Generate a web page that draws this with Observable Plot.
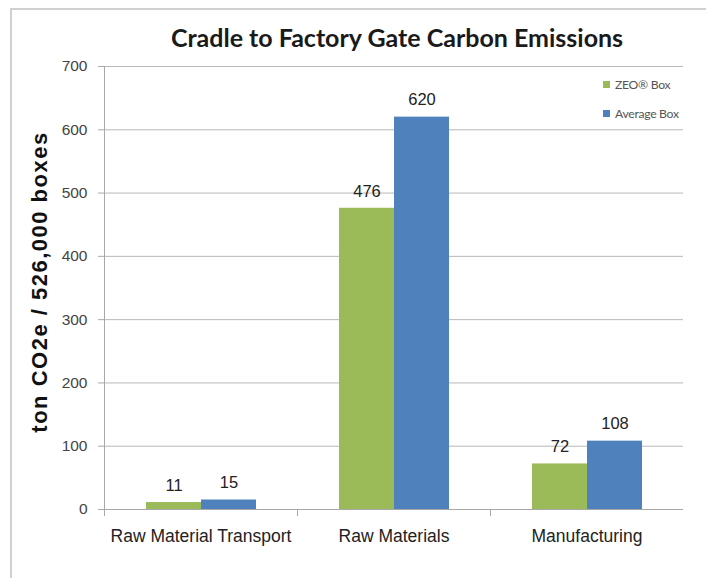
<!DOCTYPE html>
<html>
<head>
<meta charset="utf-8">
<script src="https://cdn.jsdelivr.net/npm/d3@7"></script>
<script src="https://cdn.jsdelivr.net/npm/@observablehq/plot@0.6"></script>
<style>
  html, body { margin: 0; padding: 0; background: #fff; }
  #wrap { position: relative; width: 706px; height: 578px; overflow: hidden; font-family: "Liberation Sans", Arial, sans-serif; }
  #border { position: absolute; left: 10px; top: 8px; width: 720px; height: 600px; border-left: 2px solid #d0d0d0; border-top: 2px solid #d0d0d0; }
  #chart { position: absolute; left: 0; top: 0; }
  #title { position: absolute; left: 97px; width: 600px; top: 22px; text-align: center; font-family: Lato, sans-serif; font-weight: bold; font-size: 25px; line-height: 30px; color: #1a1a1a; white-space: nowrap; }
  #ylabel { position: absolute; left: 40px; top: 282px; transform: translate(-50%, -50%) rotate(-90deg); font-weight: bold; font-size: 22px; letter-spacing: 1.5px; color: #111; white-space: nowrap; }
  #legend { position: absolute; left: 603px; top: 74px; font-family: Lato, sans-serif; font-size: 12.2px; letter-spacing: -0.3px; color: #555; }
  .li { display: flex; align-items: center; height: 20px; margin-bottom: 9px; white-space: nowrap; }
  .sw { width: 7px; height: 7px; margin-right: 5px; }
</style>
</head>
<body>
<div id="wrap">
  <div id="border"></div>
  <div id="chart"></div>
  <div id="title"></div>
  <div id="ylabel"></div>
  <div id="legend"></div>
</div>
<script>
const categories = ["Raw Material Transport", "Raw Materials", "Manufacturing"];
const seriesNames = ["ZEO\u00AE Box", "Average Box"];
const zeoValues = [11, 476, 72];
const averageValues = [15, 620, 108];
const yTicks = [0, 100, 200, 300, 400, 500, 600, 700];
const colors = ["#9BBB59", "#4F81BD"];
const title = "Cradle to Factory Gate Carbon Emissions";
const yLabel = "ton CO2e / 526,000 boxes";

const data = [];
categories.forEach((c, i) => {
  data.push({category: c, series: seriesNames[0], value: zeoValues[i]});
  data.push({category: c, series: seriesNames[1], value: averageValues[i]});
});

const chart = Plot.plot({
  width: 706,
  height: 578,
  marginLeft: 103,
  marginRight: 23,
  marginTop: 66,
  marginBottom: 69,
  style: {fontFamily: "Liberation Sans, Arial, sans-serif", background: "transparent"},
  fx: {domain: categories, padding: 0, label: null},
  x: {domain: seriesNames, paddingInner: 0, paddingOuter: 0.75, axis: null},
  y: {domain: [0, 700], ticks: yTicks, label: null},
  color: {domain: seriesNames, range: colors},
  marks: [
    Plot.gridY(yTicks.filter(d => d > 0), {stroke: "#b8b8b8", strokeOpacity: 1}),
    Plot.axisY(yTicks, {tickSize: 6, tickPadding: 11, stroke: "#a8a8a8", fill: "#444", fontSize: 15.5}),
    Plot.frame({anchor: "left", stroke: "#a8a8a8", facetAnchor: "left"}),
    Plot.axisFx({anchor: "bottom", tickSize: 0, tickPadding: 20, fontSize: 17.5, fill: "#222", label: null}),
    Plot.frame({anchor: "left", stroke: "#a8a8a8", insetTop: 443, insetBottom: -6}),
    Plot.barY(data, {fx: "category", x: "series", y: "value", fill: "series"}),
    Plot.ruleY([0], {stroke: "#a8a8a8"}),
    Plot.text(data, {fx: "category", x: "series", y: "value", text: d => String(d.value), dy: -17, fontSize: 16.5, fill: "#222"})
  ]
});
document.getElementById("chart").appendChild(chart);
document.getElementById("title").textContent = title;
document.getElementById("ylabel").textContent = yLabel;
const legend = document.getElementById("legend");
seriesNames.forEach((s, i) => {
  const row = document.createElement("div");
  row.className = "li";
  const sw = document.createElement("span");
  sw.className = "sw";
  sw.style.background = colors[i];
  const t = document.createElement("span");
  t.textContent = s;
  row.appendChild(sw);
  row.appendChild(t);
  legend.appendChild(row);
});
</script>
</body>
</html>
